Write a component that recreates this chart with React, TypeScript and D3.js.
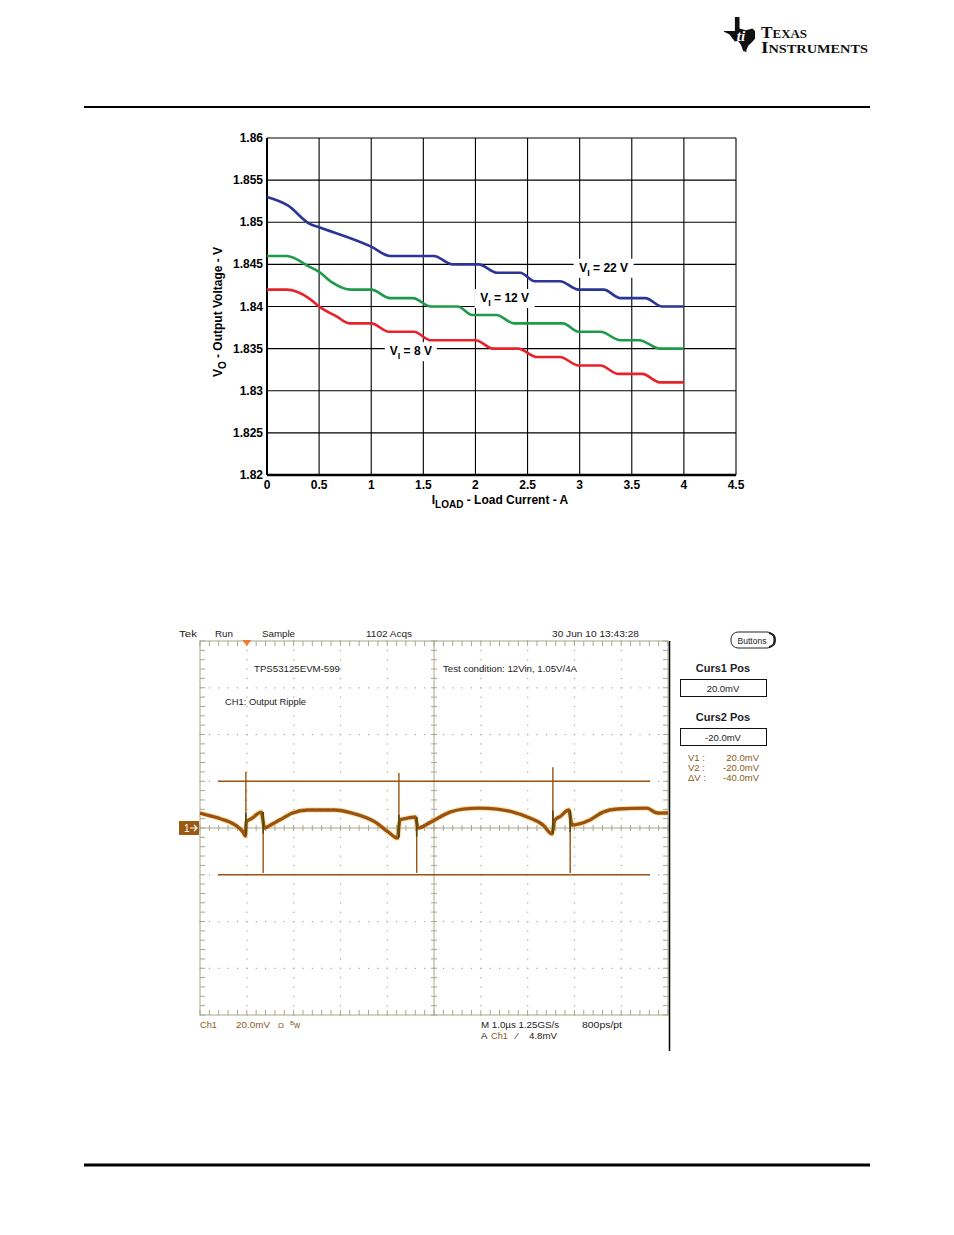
import React from "react";
import * as d3 from "d3";

// ---------- Top chart data ----------
const currentTicks = [0, 0.5, 1, 1.5, 2, 2.5, 3, 3.5, 4, 4.5];
const currentTickLabels = ["0", "0.5", "1", "1.5", "2", "2.5", "3", "3.5", "4", "4.5"];
const voltageTicks = [1.82, 1.825, 1.83, 1.835, 1.84, 1.845, 1.85, 1.855, 1.86];
const voltageTickLabels = ["1.82", "1.825", "1.83", "1.835", "1.84", "1.845", "1.85", "1.855", "1.86"];

const vi22Current = [0, 0.2, 0.41, 0.5, 1.0, 1.18, 1.6, 1.78, 2.03, 2.21, 2.43, 2.57, 2.81, 2.99, 3.23, 3.39, 3.63, 3.79, 4.0];
const vi22Voltage = [1.853, 1.852, 1.8498, 1.8494, 1.8471, 1.846, 1.846, 1.845, 1.845, 1.844, 1.844, 1.843, 1.843, 1.842, 1.842, 1.841, 1.841, 1.84, 1.84];

const vi12Current = [0, 0.19, 0.41, 0.5, 0.62, 0.81, 1.0, 1.18, 1.4, 1.57, 1.83, 1.97, 2.2, 2.37, 2.84, 2.99, 3.2, 3.39, 3.57, 3.77, 4.0];
const vi12Voltage = [1.846, 1.846, 1.8447, 1.8441, 1.8429, 1.842, 1.842, 1.841, 1.841, 1.84, 1.84, 1.839, 1.839, 1.838, 1.838, 1.837, 1.837, 1.836, 1.836, 1.835, 1.835];

const vi8Current = [0, 0.19, 0.4, 0.5, 0.67, 0.79, 1.0, 1.17, 1.41, 1.57, 2.0, 2.17, 2.41, 2.59, 2.81, 2.99, 3.2, 3.37, 3.6, 3.77, 4.0];
const vi8Voltage = [1.842, 1.842, 1.841, 1.84, 1.8388, 1.838, 1.838, 1.837, 1.837, 1.836, 1.836, 1.835, 1.835, 1.834, 1.834, 1.833, 1.833, 1.832, 1.832, 1.831, 1.831];

const seriesNames = ["22 V", "12 V", "8 V"];
const seriesColors = ["#2a3595", "#1f9a4a", "#e8222b"];
const labelCurrent = [3.23, 2.28, 1.38];
const labelVoltage = [1.8446, 1.841, 1.8347];

// ---------- Scope data ----------
const rippleTimeUs = [0, 0.38, 0.75, 0.92, 0.97, 0.99, 1.1, 1.31, 1.38, 1.5, 1.71, 1.97, 2.31, 2.88, 3.25, 3.74, 4.02, 4.22, 4.27, 4.38, 4.6, 4.66, 4.91, 5.34, 5.62, 5.98, 6.35, 6.69, 7.05, 7.33, 7.52, 7.58, 7.7, 7.88, 7.95, 8.33, 8.61, 8.91, 9.55, 9.77, 10.0];
const rippleMv = [6.4, 4.3, 1.3, -1.7, -3.4, 2.6, 4.0, 6.8, 0.0, 1.2, 3.5, 6.4, 7.7, 7.7, 6.4, 2.6, -1.7, -4.3, 3.4, 4.0, 4.7, 0.0, 2.3, 6.8, 8.1, 8.5, 8.1, 6.8, 4.3, 1.3, -2.5, 3.4, 5.0, 7.7, 1.3, 3.4, 6.8, 8.1, 8.5, 6.4, 6.4];
const spikeTimeUs = [0.98, 1.35, 4.25, 4.63, 7.54, 7.91];
const spikeBaseMv = [-3.0, 6.8, -4.0, 4.7, -2.5, 7.7];
const spikePeakMv = [24, -19.2, 23.5, -19.2, 26, -19.2];
const cursorMv = [20, -20];

const headerTexts = ["Tek", "Run", "Sample", "1102 Acqs", "30 Jun 10 13:43:28"];

export default function App() {
  const x = d3.scaleLinear().domain([0, 4.5]).range([267, 736]);
  const y = d3.scaleLinear().domain([1.82, 1.86]).range([475, 138]);
  const mk = (xs: number[], ys: number[]) =>
    d3
      .line<number>()
      .x((_, i) => x(xs[i]))
      .y((_, i) => y(ys[i]))
      .curve(d3.curveMonotoneX)(xs) as string;
  const series = [
    mk(vi22Current, vi22Voltage),
    mk(vi12Current, vi12Voltage),
    mk(vi8Current, vi8Voltage),
  ];

  // scope scales
  const sx = d3.scaleLinear().domain([0, 10]).range([200, 668]);
  const sy = d3.scaleLinear().domain([-80, 80]).range([1015, 641]);
  const trace = d3
    .line<number>()
    .x((_, i) => sx(rippleTimeUs[i]))
    .y((_, i) => sy(rippleMv[i]))
    .curve(d3.curveMonotoneX)(rippleTimeUs) as string;

  const gridColor = "#a9a68c";
  const brown = "#9a520e";
  const textBrown = "#8a5a18";

  const divX = d3.range(0, 11).map((d) => sx(d));
  const divY = d3.range(-80, 81, 20).map((d) => sy(d));
  const minorX = d3.range(0, 50.001, 1).map((d) => sx(d / 5));
  const minorY = d3.range(-80, 80.001, 4).map((d) => sy(d));

  // Texas outline (normalized)
  const tx = [0.35, 0.5, 0.5, 0.7, 0.92, 1.0, 1.0, 0.9, 0.78, 0.72, 0.73, 0.62, 0.55, 0.45, 0.35, 0.28, 0.18, 0.0, 0.0, 0.35];
  const ty = [0, 0, 0.33, 0.38, 0.33, 0.4, 0.62, 0.72, 0.82, 0.95, 1.0, 0.97, 0.8, 0.68, 0.7, 0.62, 0.5, 0.42, 0.4, 0.4];
  const texasPath =
    tx.map((v, i) => `${i ? "L" : "M"}${(724 + v * 31).toFixed(1)},${(17 + ty[i] * 35).toFixed(1)}`).join("") + "Z";

  const sans = "'Liberation Sans', Arial, sans-serif";

  return (
    <svg
      width={954}
      height={1235}
      style={{ position: "absolute", left: 0, top: 0, background: "#fff" }}
      fontFamily={sans}
    >
      <rect x={0} y={0} width={954} height={1235} fill="#fff" />
      {/* TI logo */}
      <path d={texasPath} fill="#111" />
      <text x={741} y={41} fill="#fff" fontSize={15} fontWeight="bold" fontStyle="italic" fontFamily="'Liberation Serif', serif" textAnchor="middle">
        ti
      </text>
      <text x={761} y={38} fontFamily="'Liberation Serif', serif" fontWeight="bold" fill="#111" textLength={46} lengthAdjust="spacingAndGlyphs">
        <tspan fontSize={16}>T</tspan>
        <tspan fontSize={12}>EXAS</tspan>
      </text>
      <text x={761} y={53} fontFamily="'Liberation Serif', serif" fontWeight="bold" fill="#111" textLength={107} lengthAdjust="spacingAndGlyphs">
        <tspan fontSize={16}>I</tspan>
        <tspan fontSize={12}>NSTRUMENTS</tspan>
      </text>
      <line x1={84} x2={870} y1={107} y2={107} stroke="#000" strokeWidth={2} />
      <line x1={84} x2={870} y1={1165} y2={1165} stroke="#000" strokeWidth={3} />

      {/* ---------- Top chart ---------- */}
      <g>
        {currentTicks.map((c) => (
          <line key={"vg" + c} x1={x(c)} x2={x(c)} y1={y(1.86)} y2={y(1.82)} stroke="#000" strokeWidth={1.1} />
        ))}
        {voltageTicks.map((v) => (
          <line key={"hg" + v} x1={x(0)} x2={x(4.5)} y1={y(v)} y2={y(v)} stroke="#000" strokeWidth={1.1} />
        ))}
        <line x1={x(0)} x2={x(4.5)} y1={y(1.82)} y2={y(1.82)} stroke="#000" strokeWidth={2.5} />
        <line x1={x(0)} x2={x(0)} y1={y(1.86)} y2={y(1.82)} stroke="#000" strokeWidth={2} />
        {seriesNames.map((n, i) => {
          const cx = x(labelCurrent[i]);
          const cy = y(labelVoltage[i]);
          const w = i === 2 ? 52 : 60;
          return <rect key={"lr" + i} x={cx - w / 2} y={cy - 9} width={w} height={19} fill="#fff" />;
        })}
        {series.map((d, i) => (
          <path key={"s" + i} d={d} fill="none" stroke={seriesColors[i]} strokeWidth={2.6} />
        ))}
        {seriesNames.map((n, i) => {
          const cx = x(labelCurrent[i]);
          const cy = y(labelVoltage[i]);
          return (
            <text key={"lt" + i} x={cx} y={cy + 4} textAnchor="middle" fontSize={12} fontWeight="bold">
              V<tspan fontSize={9} dy={4}>I</tspan>
              <tspan dy={-4}> = {n}</tspan>
            </text>
          );
        })}
        {voltageTicks.map((v, i) => (
          <text key={"yl" + v} x={263} y={y(v) + 4} textAnchor="end" fontSize={12} fontWeight="bold">
            {voltageTickLabels[i]}
          </text>
        ))}
        {currentTicks.map((c, i) => (
          <text key={"xl" + c} x={x(c)} y={489} textAnchor="middle" fontSize={12} fontWeight="bold">
            {currentTickLabels[i]}
          </text>
        ))}
        <text x={500} y={504} textAnchor="middle" fontSize={12} fontWeight="bold">
          I<tspan fontSize={10} dy={4}>LOAD</tspan>
          <tspan dy={-4}> - Load Current - A</tspan>
        </text>
        <text transform="translate(222,312) rotate(-90)" textAnchor="middle" fontSize={12} fontWeight="bold">
          V<tspan fontSize={10} dy={4}>O</tspan>
          <tspan dy={-4}> - Output Voltage - V</tspan>
        </text>
      </g>

      {/* ---------- Scope screenshot ---------- */}
      <g fontSize={9.5} fill="#222">
        {/* header */}
        <text x={179} y={637} textLength={18} lengthAdjust="spacingAndGlyphs">{headerTexts[0]}</text>
        <text x={215} y={637} textLength={18} lengthAdjust="spacingAndGlyphs">{headerTexts[1]}</text>
        <text x={262} y={637} textLength={33} lengthAdjust="spacingAndGlyphs">{headerTexts[2]}</text>
        <text x={366} y={637} textLength={46} lengthAdjust="spacingAndGlyphs">{headerTexts[3]}</text>
        <text x={552} y={637} textLength={87} lengthAdjust="spacingAndGlyphs">{headerTexts[4]}</text>

        {/* dotted grid */}
        {divX.slice(1, -1).map((gx, i) =>
          i === 4 ? null : (
            <g key={"dx" + i}>
              {minorY.map((my, j) => (
                <rect key={j} x={gx - 0.5} y={my - 0.5} width={1.2} height={1.2} fill={gridColor} />
              ))}
            </g>
          )
        )}
        {divY.slice(1, -1).map((gy, i) =>
          i === 3 ? null : (
            <g key={"dy" + i}>
              {minorX.map((mx, j) => (
                <rect key={j} x={mx - 0.5} y={gy - 0.5} width={1.2} height={1.2} fill={gridColor} />
              ))}
            </g>
          )
        )}
        {/* center cross */}
        <line x1={sx(0)} x2={sx(10)} y1={sy(0)} y2={sy(0)} stroke={gridColor} strokeWidth={1} />
        <line x1={sx(5)} x2={sx(5)} y1={sy(80)} y2={sy(-80)} stroke={gridColor} strokeWidth={1} />
        {minorX.map((mx, j) => (
          <line key={"cxt" + j} x1={mx} x2={mx} y1={sy(0) - 3} y2={sy(0) + 3} stroke={gridColor} />
        ))}
        {minorY.map((my, j) => (
          <line key={"cyt" + j} x1={sx(5) - 3} x2={sx(5) + 3} y1={my} y2={my} stroke={gridColor} />
        ))}
        {/* border + ticks */}
        <rect x={sx(0)} y={sy(80)} width={sx(10) - sx(0)} height={sy(-80) - sy(80)} fill="none" stroke={gridColor} strokeWidth={1} />
        {minorX.map((mx, j) => (
          <g key={"bt" + j}>
            <line x1={mx} x2={mx} y1={sy(80)} y2={sy(80) + 5} stroke={gridColor} />
            <line x1={mx} x2={mx} y1={sy(-80)} y2={sy(-80) - 5} stroke={gridColor} />
          </g>
        ))}
        {minorY.map((my, j) => (
          <g key={"bl" + j}>
            <line x1={sx(0)} x2={sx(0) + 5} y1={my} y2={my} stroke={gridColor} />
            <line x1={sx(10)} x2={sx(10) - 5} y1={my} y2={my} stroke={gridColor} />
          </g>
        ))}
        <line x1={669.5} x2={669.5} y1={641} y2={1051} stroke="#000" strokeWidth={1.5} />

        {/* trigger marker */}
        <path d={`M${sx(1) - 4.5},${sy(80) - 1}L${sx(1) + 4.5},${sy(80) - 1}L${sx(1)},${sy(80) + 5}Z`} fill="#f07a32" />

        {/* annotations inside screen */}
        <text x={254} y={672} textLength={86} lengthAdjust="spacingAndGlyphs">TPS53125EVM-599</text>
        <text x={443} y={672} textLength={134} lengthAdjust="spacingAndGlyphs">Test condition: 12Vin, 1.05V/4A</text>
        <text x={225} y={705} textLength={81} lengthAdjust="spacingAndGlyphs">CH1: Output Ripple</text>

        {/* cursors */}
        {cursorMv.map((c) => (
          <line key={"cur" + c} x1={218} x2={650} y1={sy(c)} y2={sy(c)} stroke={brown} strokeWidth={1.4} />
        ))}

        {/* trace */}
        <path d={trace} fill="none" stroke="#e6c860" strokeWidth={5.5} strokeOpacity={0.45} strokeLinejoin="round" />
        <path d={trace} fill="none" stroke={brown} strokeWidth={3.4} strokeLinejoin="round" />
        <path d={trace} fill="none" stroke="#e0b84a" strokeWidth={0.8} strokeOpacity={0.5} strokeDasharray="1 5 2 7" strokeLinejoin="round" transform="translate(0,-1.6)" />
        {spikeTimeUs.map((t, i) => (
          <g key={"sp" + i}>
            <line x1={sx(t)} x2={sx(t)} y1={sy(spikeBaseMv[i])} y2={sy(spikePeakMv[i])} stroke={brown} strokeWidth={1.4} />
            <line x1={sx(t)} x2={sx(t)} y1={sy(spikeBaseMv[i])} y2={sy(spikeBaseMv[i] + (spikePeakMv[i] - spikeBaseMv[i]) * 0.35)} stroke="#4e4a12" strokeWidth={1.6} />
          </g>
        ))}

        {/* channel marker */}
        <rect x={179} y={sy(0) - 7} width={20} height={14} fill="#9b5a12" />
        <text x={184} y={sy(0) + 4} fill="#fff" fontSize={10}>1</text>
        <path d={`M190,${sy(0)}L197,${sy(0)}M194,${sy(0) - 3}L197,${sy(0)}L194,${sy(0) + 3}`} stroke="#fff" strokeWidth={1.2} fill="none" />

        {/* bottom readouts */}
        <text x={200} y={1028} fill={textBrown} textLength={17} lengthAdjust="spacingAndGlyphs">Ch1</text>
        <text x={236} y={1028} fill={textBrown} textLength={34} lengthAdjust="spacingAndGlyphs">20.0mV</text>
        <text x={278} y={1028} fill={textBrown} fontSize={8}>Ω</text>
        <text x={290} y={1028} fill={textBrown} fontSize={8.5}>
          <tspan fontSize={6} dy={-3}>B</tspan>
          <tspan dy={3}>w</tspan>
        </text>
        <text x={481} y={1028} textLength={78} lengthAdjust="spacingAndGlyphs">M 1.0µs 1.25GS/s</text>
        <text x={582} y={1028} textLength={40} lengthAdjust="spacingAndGlyphs">800ps/pt</text>
        <text x={481} y={1039}>A</text>
        <text x={491} y={1039} fill={textBrown} textLength={17} lengthAdjust="spacingAndGlyphs">Ch1</text>
        <text x={516} y={1039}>⁄</text>
        <text x={529} y={1039} textLength={28} lengthAdjust="spacingAndGlyphs">4.8mV</text>

        {/* right panel */}
        <rect x={731} y={632} width={43} height={16} rx={7} fill="#fff" stroke="#222" strokeWidth={1} />
        <path d="M769,633 Q775,634 775,640 Q775,646 769,647" fill="none" stroke="#222" strokeWidth={2} />
        <text x={752} y={644} textAnchor="middle" fontSize={8.5}>Buttons</text>
        <text x={723} y={672} textAnchor="middle" fontSize={11} fontWeight="bold">Curs1 Pos</text>
        <rect x={680.5} y={679.5} width={86} height={17} fill="#fff" stroke="#111" strokeWidth={1} />
        <text x={723} y={692} textAnchor="middle" fontSize={9.5}>20.0mV</text>
        <text x={723} y={721} textAnchor="middle" fontSize={11} fontWeight="bold">Curs2 Pos</text>
        <rect x={680.5} y={728.5} width={86} height={17} fill="#fff" stroke="#111" strokeWidth={1} />
        <text x={723} y={741} textAnchor="middle" fontSize={9.5}>-20.0mV</text>
        <g fill={textBrown} fontSize={9.5}>
          <text x={688} y={761}>V1 :</text>
          <text x={759} y={761} textAnchor="end">20.0mV</text>
          <text x={688} y={771}>V2 :</text>
          <text x={759} y={771} textAnchor="end">-20.0mV</text>
          <text x={688} y={781}>ΔV :</text>
          <text x={759} y={781} textAnchor="end">-40.0mV</text>
        </g>
      </g>
    </svg>
  );
}
